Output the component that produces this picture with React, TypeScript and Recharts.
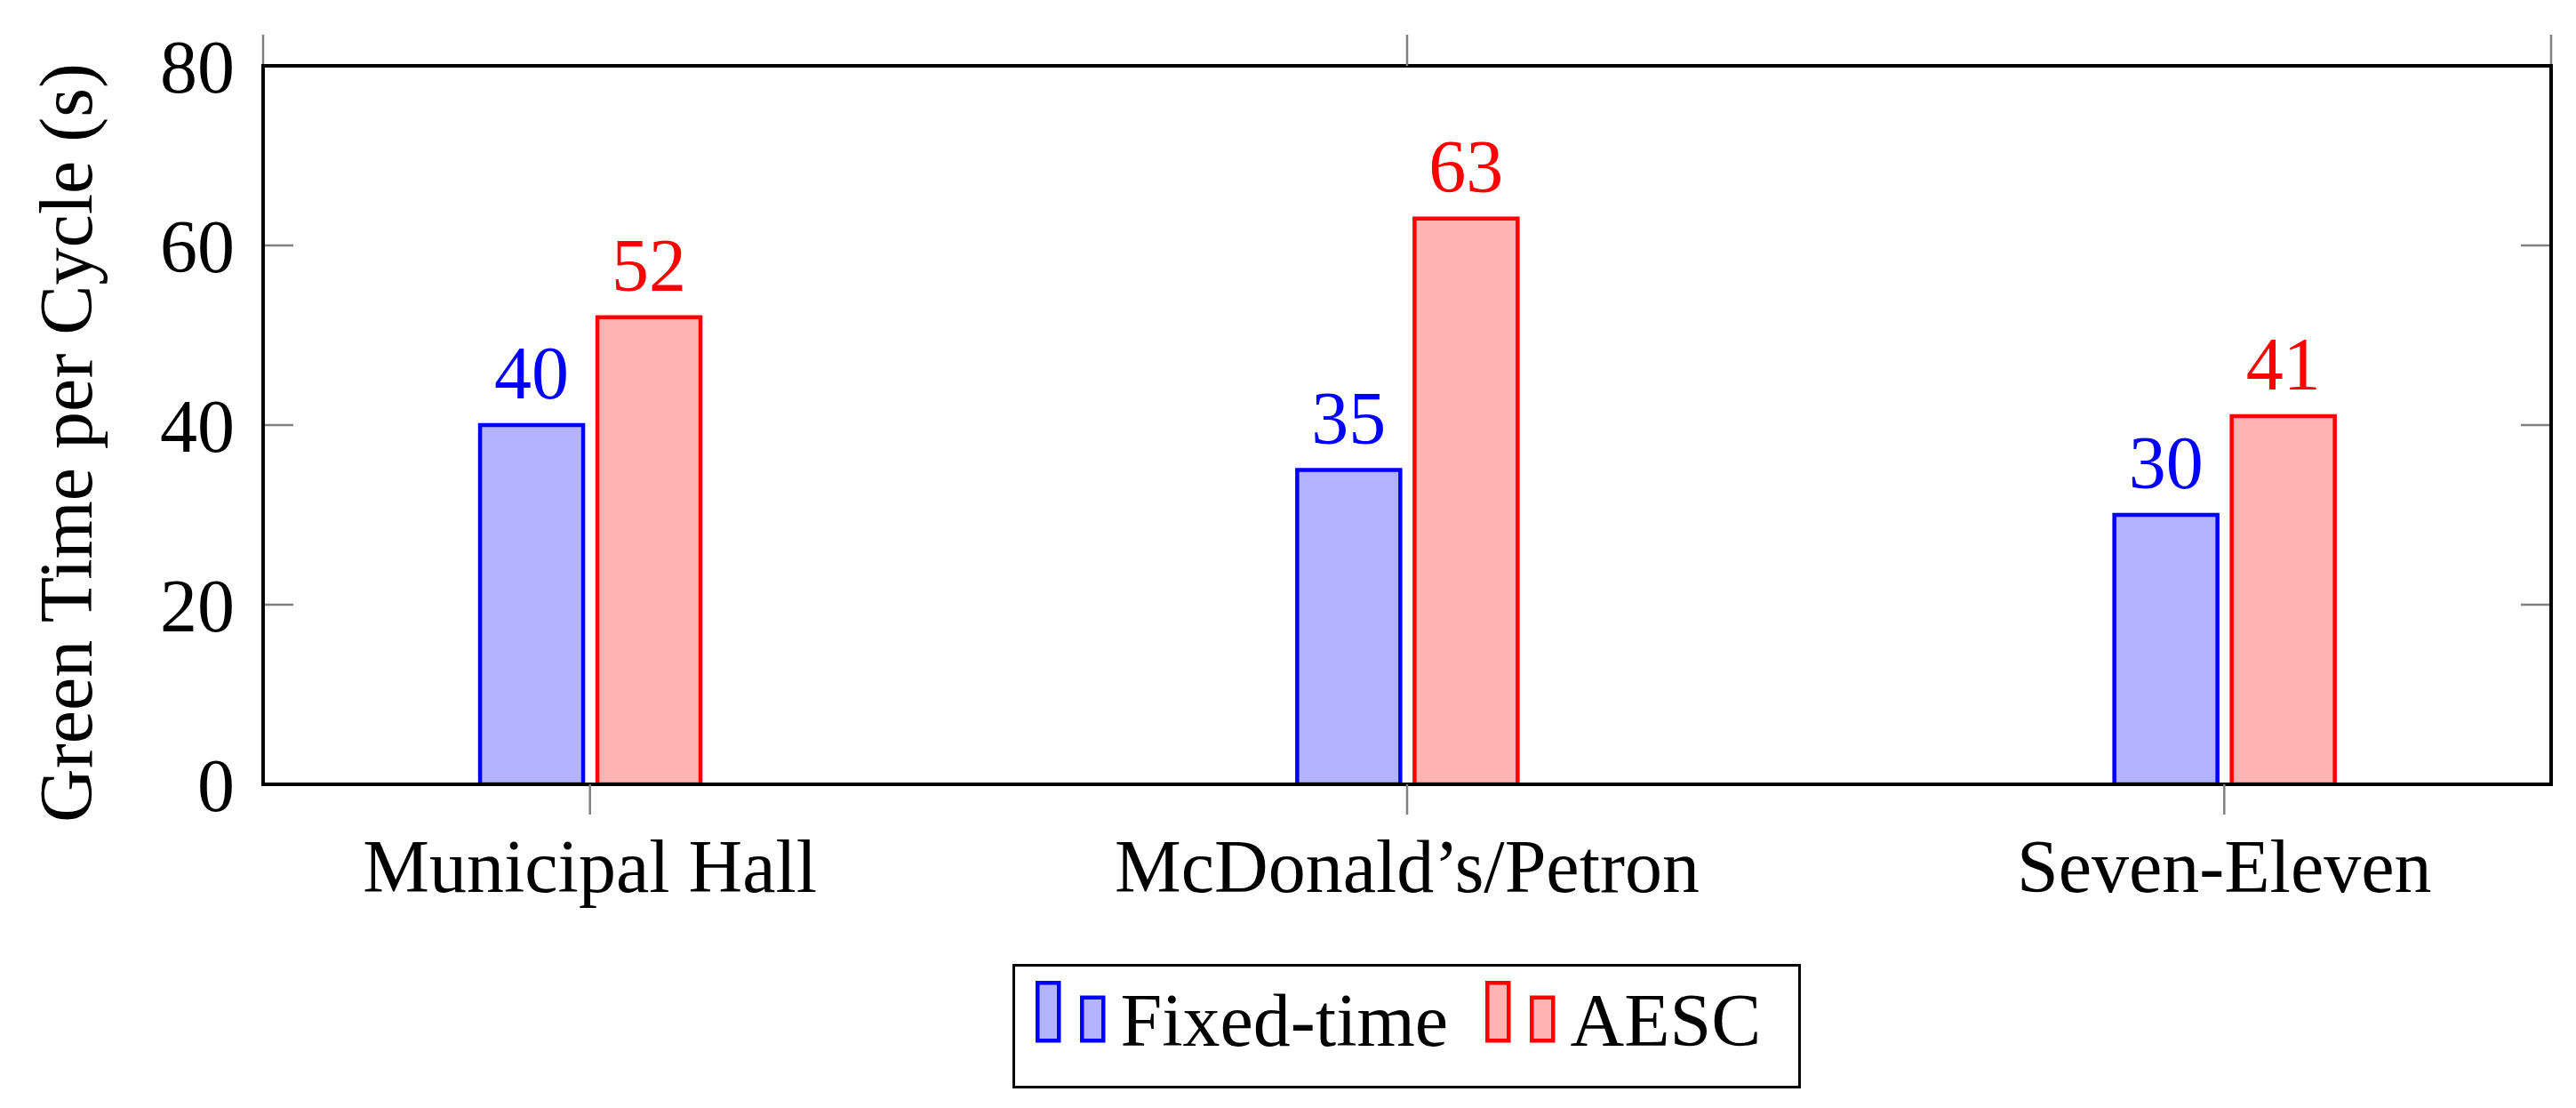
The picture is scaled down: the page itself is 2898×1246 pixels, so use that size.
import React from 'react';
import { BarChart, Bar, XAxis, YAxis, LabelList, Legend, CartesianGrid } from 'recharts';

const categories = ['Municipal Hall', "McDonald\u2019s/Petron", 'Seven-Eleven'];
const fixedTime = [40, 35, 30];
const aesc = [52, 63, 41];
const yTicks = [0, 20, 40, 60, 80];
const xTicks = [0, 1, 2];

const seriesNames = ['Fixed-time', 'AESC'];
const strokes = ['#0000ff', '#ff0000'];
const fills = ['#b3b3ff', '#ffb3b3'];

const data = categories.map((name, i) => ({
  idx: i,
  name,
  fixed: fixedTime[i],
  aesc: aesc[i],
}));

const FONT = "'Liberation Serif', 'Times New Roman', serif";
const GREY = '#808080';
const FRAME = { stroke: '#000', strokeWidth: 4, strokeLinecap: 'square' as const };
const TICK_LINE = { stroke: GREY, strokeWidth: 2.5 };
const NoLabel = () => <g />;

// plot is 2574px wide: 34px tick, gap, 34px tick -> inward y ticks on both sides
const INWARD_TICKS = '34 2506 34';

// legend drawn like pgfplots' ybar legend: two small bars per entry
const LegendBox = () => (
  <div
    style={{
      boxSizing: 'border-box',
      width: 887,
      height: 140,
      border: '3.5px solid #000',
      background: '#fff',
      display: 'flex',
      alignItems: 'flex-start',
      paddingLeft: 22.5,
      fontFamily: FONT,
      color: '#000',
    }}
  >
    {seriesNames.map((name, i) => (
      <div key={name} style={{ display: 'flex', alignItems: 'flex-start' }}>
        <svg width={80} height={72} style={{ marginTop: 16, display: 'block' }}>
          <rect x={2.25} y={2.25} width={24} height={65} fill={fills[i]} stroke={strokes[i]} strokeWidth={4.5} />
          <rect x={52.25} y={18.75} width={24} height={48.5} fill={fills[i]} stroke={strokes[i]} strokeWidth={4.5} />
        </svg>
        <span
          style={{
            display: 'inline-block',
            marginTop: 19,
            marginLeft: 16,
            fontSize: 84,
            lineHeight: '84px',
            width: i === 0 ? 410 : undefined,
            whiteSpace: 'nowrap',
          }}
        >
          {name}
        </span>
      </div>
    ))}
  </div>
);

export default function App() {
  return (
    <div style={{ position: 'absolute', left: 0, top: 0, width: 2898, height: 1246, background: '#fff', fontFamily: FONT }}>
      <BarChart
        width={2898}
        height={1246}
        data={data}
        margin={{ top: 73, right: 28, bottom: 214, left: 0 }}
        barGap={16}
      >
        <CartesianGrid
          xAxisId="bottom"
          yAxisId="left"
          vertical={false}
          stroke={GREY}
          strokeWidth={2.5}
          strokeDasharray={INWARD_TICKS}
        />
        <XAxis
          xAxisId="bottom"
          dataKey="idx"
          type="number"
          domain={[-0.4, 2.4]}
          allowDataOverflow
          ticks={xTicks}
          interval={0}
          height={150}
          stroke="#000"
          axisLine={FRAME}
          tickLine={TICK_LINE}
          tickSize={34}
          tickMargin={27}
          tick={{ fill: '#000', fontSize: 84 }}
          tickFormatter={(v: number) => categories[v]}
        />
        <XAxis
          xAxisId="top"
          orientation="top"
          type="number"
          domain={[-0.4, 2.4]}
          allowDataOverflow
          ticks={xTicks}
          interval={0}
          height={1}
          stroke="#000"
          axisLine={FRAME}
          tickLine={TICK_LINE}
          tickSize={35}
          tick={NoLabel}
        />
        <YAxis
          yAxisId="left"
          domain={[0, 80]}
          allowDataOverflow
          ticks={yTicks}
          interval={0}
          width={296}
          stroke="#000"
          axisLine={FRAME}
          tickLine={false}
          tickSize={0}
          tickMargin={32}
          tick={{ fill: '#000', fontSize: 84 }}
          label={{
            value: 'Green Time per Cycle (s)',
            angle: -90,
            position: 'center',
            dx: -75,
            dy: 20,
            fill: '#000',
            fontSize: 84,
          }}
        />
        <YAxis
          yAxisId="right"
          orientation="right"
          mirror
          domain={[0, 80]}
          allowDataOverflow
          ticks={yTicks}
          stroke="#000"
          axisLine={FRAME}
          tickLine={false}
          tick={NoLabel}
        />
        <Legend
          layout="horizontal"
          verticalAlign="middle"
          align="center"
          content={<LegendBox />}
          wrapperStyle={{ top: 1084, left: 1139, width: 887, height: 140 }}
        />
        <Bar
          xAxisId="bottom"
          yAxisId="left"
          dataKey="fixed"
          name={seriesNames[0]}
          fill={fills[0]}
          stroke={strokes[0]}
          strokeWidth={4.5}
          barSize={116}
          isAnimationActive={false}
        >
          <LabelList dataKey="fixed" position="top" offset={30} fill={strokes[0]} fontSize={84} />
        </Bar>
        <Bar
          xAxisId="bottom"
          yAxisId="left"
          dataKey="aesc"
          name={seriesNames[1]}
          fill={fills[1]}
          stroke={strokes[1]}
          strokeWidth={4.5}
          barSize={116}
          isAnimationActive={false}
        >
          <LabelList dataKey="aesc" position="top" offset={30} fill={strokes[1]} fontSize={84} />
        </Bar>
      </BarChart>
    </div>
  );
}
